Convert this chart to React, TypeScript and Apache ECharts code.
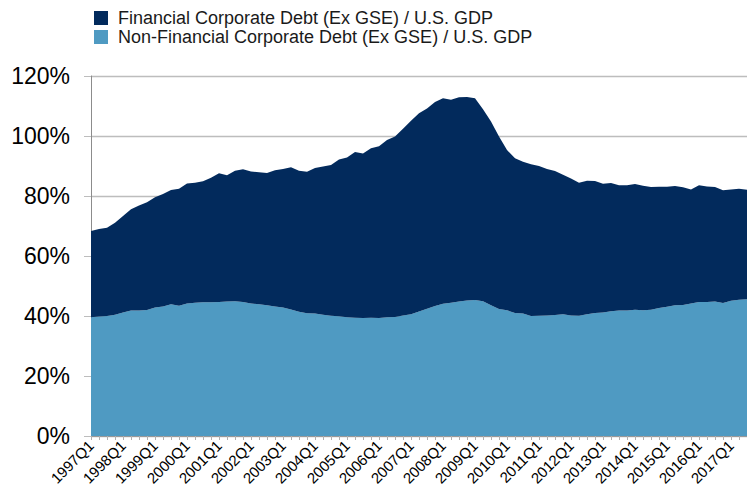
import React, { useEffect, useRef } from "react";
import * as echarts from "echarts";

const years = [1997, 1998, 1999, 2000, 2001, 2002, 2003, 2004, 2005, 2006, 2007, 2008, 2009, 2010, 2011, 2012, 2013, 2014, 2015, 2016, 2017];
const quarters = ["Q1", "Q2", "Q3", "Q4"];
const categories: string[] = years.flatMap((y) => quarters.map((q) => `${y}${q}`)).slice(0, 83);

const seriesNames = [
  "Financial Corporate Debt (Ex GSE) / U.S. GDP",
  "Non-Financial Corporate Debt (Ex GSE) / U.S. GDP",
];

// Non-financial corporate debt / GDP (%), bottom layer
const nonFinancial = [
  39.6, 39.8, 40.0, 40.4, 41.2, 41.8, 41.8, 42.0, 42.8, 43.2,
  43.9, 43.4, 44.2, 44.4, 44.6, 44.6, 44.7, 44.8, 44.9, 44.7,
  44.2, 43.9, 43.6, 43.2, 42.8, 42.2, 41.4, 40.9, 40.8, 40.4,
  40.1, 39.9, 39.6, 39.4, 39.3, 39.4, 39.3, 39.6, 39.7, 40.2,
  40.6, 41.5, 42.4, 43.3, 44.1, 44.4, 44.8, 45.2, 45.3, 44.9,
  43.6, 42.3, 41.9, 41.0, 40.8, 40.0, 40.1, 40.2, 40.3, 40.6,
  40.2, 40.1, 40.6, 41.0, 41.2, 41.6, 41.8, 41.8, 42.1, 41.9,
  42.1, 42.7, 43.1, 43.6, 43.7, 44.2, 44.7, 44.7, 44.8, 44.3,
  45.1, 45.4, 45.6,
];

// Financial corporate debt / GDP (%), stacked on top
const financial = [
  28.7, 29.2, 29.4, 30.7, 32.1, 33.8, 35.0, 35.9, 36.8, 37.5,
  38.1, 39.0, 40.0, 40.0, 40.3, 41.5, 42.9, 42.1, 43.5, 44.2,
  44.0, 44.0, 44.1, 45.4, 46.2, 47.4, 47.0, 47.2, 48.5, 49.4,
  50.2, 52.3, 53.2, 55.3, 54.9, 56.5, 57.3, 59.1, 60.1, 62.2,
  64.5, 66.1, 66.8, 68.0, 68.5, 67.7, 68.1, 67.8, 67.3, 64.0,
  61.2, 57.5, 53.4, 51.6, 50.6, 50.6, 49.9, 48.8, 48.0, 46.5,
  45.6, 44.3, 44.5, 44.0, 42.9, 42.7, 41.8, 41.8, 41.9, 41.5,
  40.9, 40.4, 40.0, 39.7, 39.2, 38.0, 38.9, 38.5, 38.2, 37.6,
  37.1, 37.0, 36.5,
];

const yTicks = { min: 0, max: 120, interval: 20 };

const FONT = "'Liberation Sans', Arial, sans-serif";
const DARK = "#022A5C";
const LIGHT = "#4F9AC2";

export default function App() {
  const ref = useRef<HTMLDivElement>(null);

  useEffect(() => {
    if (!ref.current) return;
    const chart = echarts.init(ref.current, null, { renderer: "svg" });
    chart.setOption({
      animation: false,
      textStyle: { fontFamily: FONT },
      legend: {
        orient: "vertical",
        left: 89,
        top: 4,
        itemWidth: 14,
        itemHeight: 14,
        itemGap: 1,
        icon: "rect",
        data: [seriesNames[0], seriesNames[1]],
        textStyle: { fontSize: 18, color: "#1a1a1a", fontFamily: FONT, padding: [0, 0, 0, 5] },
      },
      grid: { left: 91, right: 0, top: 76, bottom: 64, containLabel: false },
      xAxis: {
        type: "category",
        data: categories,
        boundaryGap: false,
        axisLine: { show: true, lineStyle: { color: "#999999", width: 1 } },
        axisTick: { show: true, interval: 0, length: 4, lineStyle: { color: "#b0b0b0" } },
        axisLabel: { interval: 3, rotate: 45, fontSize: 15, color: "#000", margin: 7, fontFamily: FONT },
        splitLine: { show: false },
      },
      yAxis: {
        type: "value",
        min: yTicks.min,
        max: yTicks.max,
        interval: yTicks.interval,
        axisLine: { show: true, lineStyle: { color: "#8c8c8c", width: 1 } },
        axisTick: { show: true, length: 7, lineStyle: { color: "#bdbdbd" } },
        axisLabel: { formatter: "{value}%", fontSize: 23, color: "#000", margin: 21, fontFamily: FONT },
        splitLine: { show: true, lineStyle: { color: "#bdbdbd", width: 1.3 } },
      },
      series: [
        {
          name: seriesNames[1],
          type: "line",
          stack: "total",
          data: nonFinancial,
          showSymbol: false,
          symbol: "none",
          lineStyle: { width: 0 },
          areaStyle: { color: LIGHT, opacity: 1 },
          itemStyle: { color: LIGHT },
          z: 2,
        },
        {
          name: seriesNames[0],
          type: "line",
          stack: "total",
          data: financial,
          showSymbol: false,
          symbol: "none",
          lineStyle: { width: 0 },
          areaStyle: { color: DARK, opacity: 1 },
          itemStyle: { color: DARK },
          z: 2,
        },
      ],
    });
    return () => chart.dispose();
  }, []);

  return (
    <div
      ref={ref}
      style={{ position: "fixed", left: 0, top: 0, width: 747, height: 500, background: "#fff" }}
    />
  );
}
